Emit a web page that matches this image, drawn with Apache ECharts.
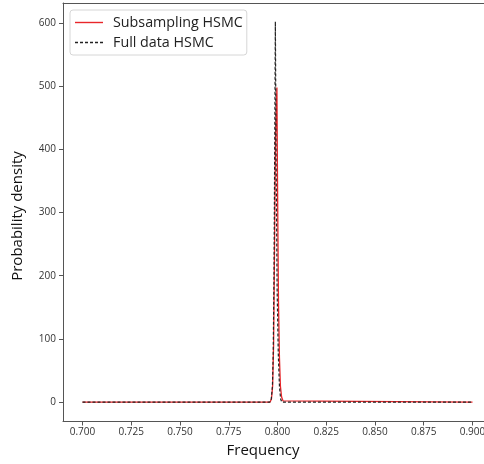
<!DOCTYPE html>
<html>
<head>
<meta charset="utf-8">
<script src="https://cdn.jsdelivr.net/npm/echarts@6/dist/echarts.min.js"></script>
<style>
html,body{margin:0;padding:0;background:#fff;}
#chart{width:484px;height:464px;}
</style>
</head>
<body>
<div id="chart"></div>
<script>
// Data
const seriesNames = ['Subsampling HSMC', 'Full data HSMC'];
const freqSub = [0.700, 0.7962, 0.7969, 0.7975, 0.7980, 0.7985, 0.7990, 0.7997, 0.8000, 0.8005, 0.8010, 0.8015, 0.8021, 0.8028, 0.8034, 0.900];
const densSub = [0, 0, 5, 25, 90, 250, 420, 498, 350, 160, 70, 25, 8, 2, 0, 0];
const freqFull = [0.700, 0.7961, 0.7968, 0.7974, 0.7978, 0.7982, 0.7986, 0.7989, 0.7993, 0.7998, 0.8004, 0.8010, 0.8016, 0.8022, 0.900];
const densFull = [0, 0, 5, 25, 77, 200, 420, 602, 380, 180, 77, 25, 5, 0, 0];
const xTicks = [0.700, 0.725, 0.750, 0.775, 0.800, 0.825, 0.850, 0.875, 0.900];
const yTicks = [0, 100, 200, 300, 400, 500, 600];

const solidIcon = 'path://M0,0h28v1.4h-28z';
const dashIcon = 'path://M0,0h3v1.4h-3z M5,0h3v1.4h-3z M10,0h3v1.4h-3z M15,0h3v1.4h-3z M20,0h3v1.4h-3z M25,0h3v1.4h-3z';

const X_MIN = 0.69, X_MAX = 0.91;
const chart = echarts.init(document.getElementById('chart'), null, {renderer: 'canvas'});
const tickFont = {fontFamily: 'Open Sans', fontSize: 10, color: '#333'};
chart.setOption({
  animation: false,
  backgroundColor: '#fff',
  grid: {left: 63, top: 3, width: 429, height: 418.5, show: false, containLabel: false, outerBoundsMode: 'none'},
  legend: {
    orient: 'vertical', left: 70, top: 10,
    itemWidth: 28, itemHeight: 1.4, itemGap: 3,
    padding: [4, 4, 4, 5],
    backgroundColor: '#fff', borderColor: '#d6d6d6', borderWidth: 1, borderRadius: 3,
    textStyle: {fontFamily: 'Open Sans', fontSize: 14.3, color: '#222', lineHeight: 17, padding: [0, 0, 0, 5]},
    data: [
      {name: seriesNames[0], icon: solidIcon, itemStyle: {color: '#e8262a'}},
      {name: seriesNames[1], icon: dashIcon, itemStyle: {color: '#222'}}
    ]
  },
  xAxis: [{
    type: 'value', min: X_MIN, max: X_MAX,
    axisLine: {show: true, onZero: false, lineStyle: {color: '#555'}},
    axisTick: {show: true, customValues: xTicks, length: 4, lineStyle: {color: '#555'}},
    axisLabel: Object.assign({customValues: xTicks, margin: 6, formatter: v => v.toFixed(3)}, tickFont),
    splitLine: {show: false}
  }, {
    type: 'value', position: 'top', min: X_MIN, max: X_MAX,
    axisLine: {show: true, onZero: false, lineStyle: {color: '#555'}},
    axisTick: {show: false}, axisLabel: {show: false}, splitLine: {show: false}
  }],
  yAxis: {
    type: 'value', min: -30.7, max: 631.6,
    axisLine: {show: true, onZero: false, lineStyle: {color: '#555'}},
    axisTick: {show: true, customValues: yTicks, length: 4, lineStyle: {color: '#555'}},
    axisLabel: Object.assign({customValues: yTicks, margin: 7}, tickFont),
    splitLine: {show: false}
  },
  graphic: [
    {type: 'text', x: 263, y: 451, style: {text: 'Frequency', fontFamily: 'Open Sans', fontSize: 15, fill: '#111', align: 'center', verticalAlign: 'middle'}},
    {type: 'text', x: 18, y: 216, rotation: Math.PI / 2, style: {text: 'Probability density', fontFamily: 'Open Sans', fontSize: 15, fill: '#111', align: 'center', verticalAlign: 'middle'}}
  ],
  series: [
    {
      name: seriesNames[0], type: 'line', symbol: 'none', showSymbol: false,
      data: freqSub.map((f, i) => [f, densSub[i]]),
      lineStyle: {color: '#e8262a', width: 1.3},
      itemStyle: {color: '#e8262a'}, z: 2
    },
    {
      name: seriesNames[1], type: 'line', symbol: 'none', showSymbol: false,
      data: freqFull.map((f, i) => [f, densFull[i]]),
      lineStyle: {color: '#222', width: 1.2, type: [3, 2]},
      itemStyle: {color: '#222'}, z: 3
    }
  ]
});
</script>
</body>
</html>
